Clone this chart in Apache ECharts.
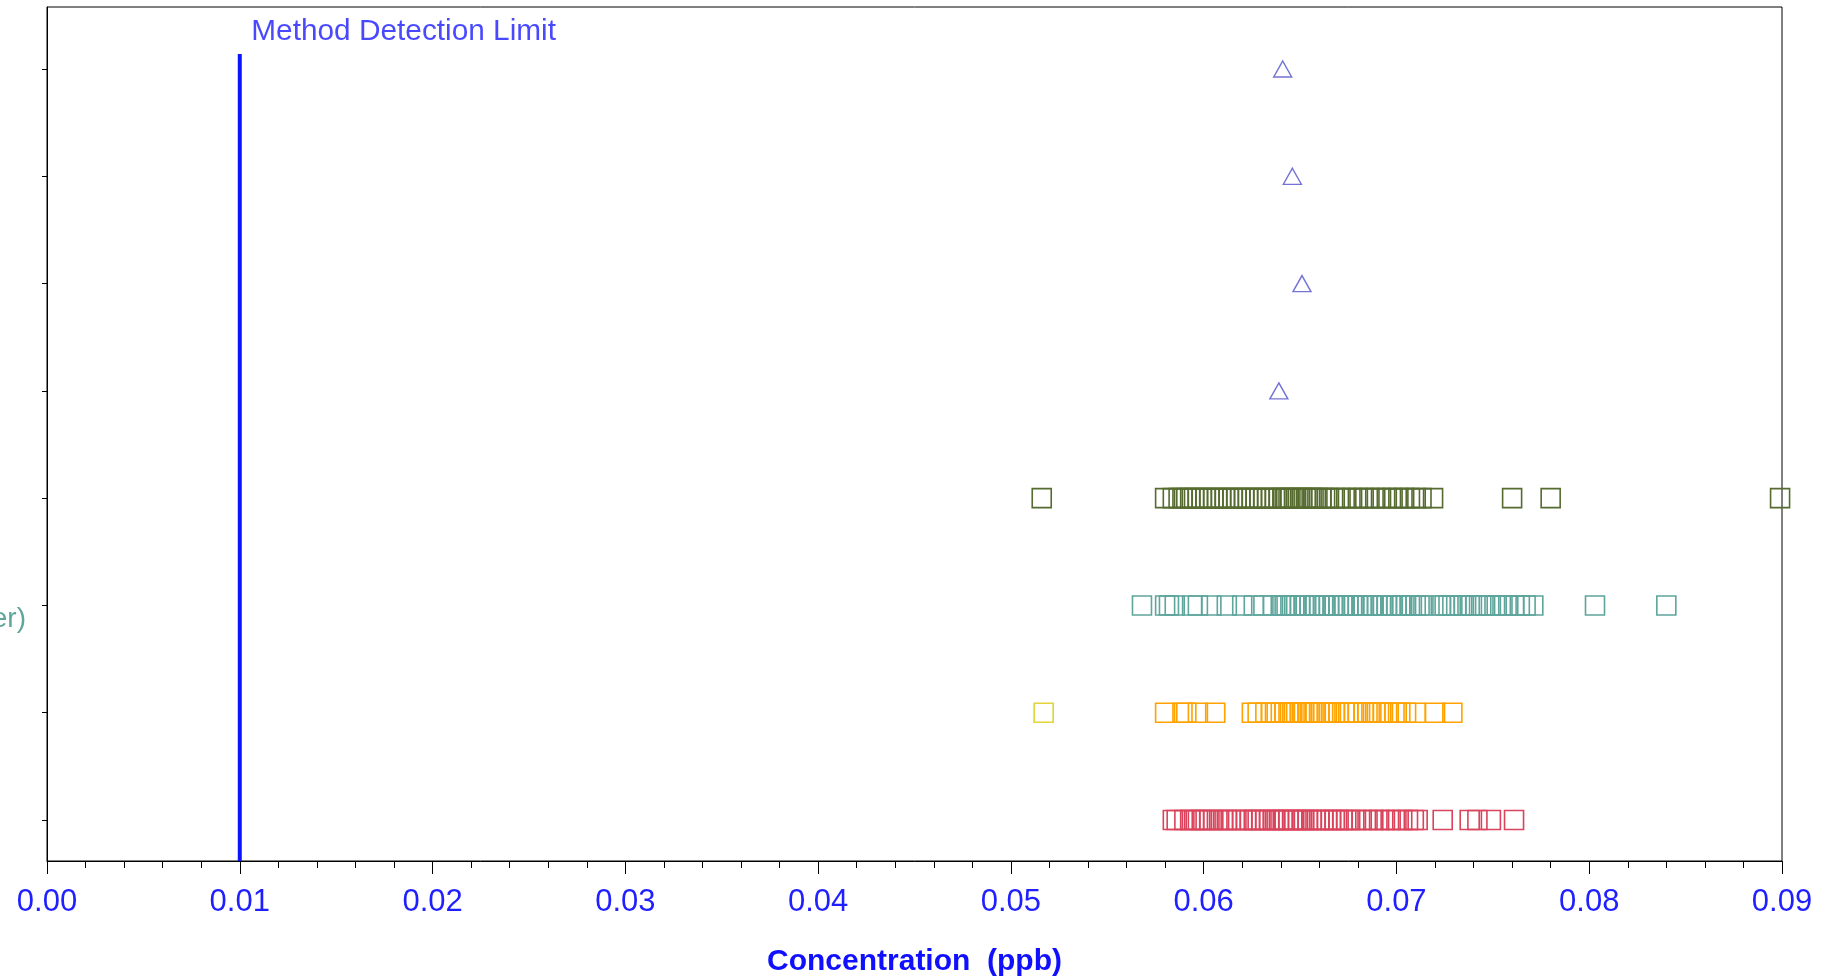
<!DOCTYPE html>
<html>
<head>
<meta charset="utf-8">
<script src="https://cdn.jsdelivr.net/npm/echarts@6/dist/echarts.min.js"></script>
<style>
html,body{margin:0;padding:0;background:#fff;}
#chart{width:1837px;height:977px;}
</style>
</head>
<body>
<div id="chart"></div>
<script>
// ---- data (concentration in ppb) ----
const rowTicks = [1, 2, 3, 4, 5, 6, 7, 8];
const rowLabels = {3: '(Finished Water)'};
const mdlValue = 0.01;
const mdlLabel = 'Method Detection Limit';
const axisTitle = 'Concentration  (ppb)';

const triangleRows = [8, 7, 6, 5];
const triangleX = [0.0641, 0.0646, 0.0651, 0.0639];

const oliveRow = 4;
const oliveX = [0.0516,
  0.0580, 0.0584, 0.0587, 0.0589, 0.0591, 0.0593, 0.0595, 0.0597, 0.0599, 0.0601, 0.0603, 0.0605,
  0.0607, 0.0609, 0.0611, 0.0613, 0.0615, 0.0617, 0.0619, 0.0621, 0.0623, 0.0625, 0.0627, 0.0629,
  0.0631, 0.0633, 0.0635, 0.0637, 0.0639, 0.0641, 0.0642, 0.0644, 0.0645, 0.0647, 0.0648, 0.0650,
  0.0651, 0.0653, 0.0654, 0.0656, 0.0657, 0.0659, 0.0661, 0.0663, 0.0665, 0.0668, 0.0671, 0.0674,
  0.0677, 0.0680, 0.0683, 0.0686, 0.0689, 0.0692, 0.0695, 0.0698, 0.0701, 0.0704, 0.0707, 0.0710,
  0.0713, 0.0719, 0.0760, 0.0780, 0.0899];

const tealRow = 3;
const tealX = [0.0568, 0.0580, 0.0582, 0.0585, 0.0594, 0.0597, 0.0604, 0.0612, 0.0620, 0.0626, 0.0631,
  0.0636, 0.0640, 0.0642, 0.0643, 0.0645, 0.0647, 0.0648, 0.0650, 0.0652, 0.0653, 0.0655, 0.0657,
  0.0658, 0.0660, 0.0662, 0.0663, 0.0665, 0.0667, 0.0668, 0.0670, 0.0672, 0.0673, 0.0675, 0.0677,
  0.0678, 0.0680, 0.0682, 0.0683, 0.0685, 0.0687, 0.0688, 0.0690, 0.0692, 0.0693, 0.0695, 0.0697,
  0.0698, 0.0700, 0.0702, 0.0703, 0.0705, 0.0707, 0.0708, 0.0710, 0.0712, 0.0714,
  0.0723, 0.0725, 0.0727, 0.0729, 0.0731, 0.0733, 0.0735,
  0.0738, 0.0741, 0.0744, 0.0746, 0.0749, 0.0752, 0.0755, 0.0758, 0.0761, 0.0764, 0.0767, 0.0771,
  0.0803, 0.0840];

const orangeRow = 2;
const orangeX = [0.0580, 0.0589, 0.0591, 0.0597, 0.0606,
  0.0625, 0.0628, 0.0632, 0.0635, 0.0637, 0.0640, 0.0642, 0.0644, 0.0646, 0.0648, 0.0650, 0.0651,
  0.0652, 0.0654, 0.0655, 0.0657, 0.0658, 0.0660, 0.0662, 0.0664, 0.0666, 0.0668, 0.0670, 0.0673,
  0.0675, 0.0678, 0.0680, 0.0683, 0.0685, 0.0687, 0.0689, 0.0691, 0.0693, 0.0696, 0.0699, 0.0702,
  0.0705, 0.0710, 0.0720, 0.0729];
const yellowX = [0.0517];

const redRow = 1;
const redX = [0.0584, 0.0586, 0.0590, 0.0593, 0.0595, 0.0597, 0.0599, 0.0601, 0.0603, 0.0605, 0.0608,
  0.0610, 0.0612, 0.0614, 0.0617, 0.0620, 0.0622, 0.0624, 0.0626, 0.0628, 0.0630, 0.0632, 0.0634,
  0.0636, 0.0637, 0.0639, 0.0641, 0.0642, 0.0644, 0.0646, 0.0647, 0.0649, 0.0651, 0.0652, 0.0654,
  0.0656, 0.0658, 0.0660, 0.0662, 0.0664, 0.0666, 0.0668, 0.0670, 0.0672, 0.0674, 0.0676, 0.0679,
  0.0682, 0.0685, 0.0688, 0.0691, 0.0694, 0.0697, 0.0700, 0.0703, 0.0706, 0.0709, 0.0711, 0.0724,
  0.0738, 0.0742, 0.0749, 0.0761];

// ---- chart ----
const FONT = '"Liberation Sans", Arial, sans-serif';
const yMin = 0.618, yMax = 8.578, mdlTop = 8.14;

function pts(xs, row) { return xs.map(x => [x, row]); }
function squares(name, xs, row, color) {
  return {
    name, type: 'scatter', symbol: 'rect', symbolSize: 19,
    data: pts(xs, row),
    itemStyle: { color: 'rgba(0,0,0,0)', borderColor: color, borderWidth: 1.6, opacity: 1 },
    emphasis: { disabled: true }, silent: true, z: 3
  };
}

const chart = echarts.init(document.getElementById('chart'), null, { renderer: 'canvas' });
chart.setOption({
  animation: false,
  backgroundColor: '#ffffff',
  grid: { left: 47, right: 55, top: 7, bottom: 116, containLabel: false, outerBoundsMode: 'none',
    show: true, borderColor: '#000', borderWidth: 1, backgroundColor: '#fff' },
  xAxis: {
    type: 'value', min: 0, max: 0.09, interval: 0.01,
    axisLine: { show: true, lineStyle: { color: '#000', width: 1 } },
    axisTick: { show: true, length: 13, lineStyle: { color: '#000' } },
    minorTick: { show: true, splitNumber: 5, length: 7, lineStyle: { color: '#000' } },
    splitLine: { show: false },
    axisLabel: { color: '#1f1fff', fontSize: 31, fontFamily: FONT, margin: 26, formatter: v => v.toFixed(2) },
    name: axisTitle, nameLocation: 'middle', nameGap: 86,
    nameTextStyle: { color: '#1010ff', fontSize: 30, fontWeight: 'bold', fontFamily: FONT }
  },
  yAxis: {
    type: 'value', min: yMin, max: yMax,
    axisLine: { show: true, lineStyle: { color: '#000', width: 1 } },
    axisTick: { show: true, length: 5, customValues: rowTicks, lineStyle: { color: '#000' } },
    splitLine: { show: false },
    axisLabel: {
      show: true, customValues: Object.keys(rowLabels).map(Number),
      formatter: v => rowLabels[Math.round(v)] || '',
      color: '#5ea59c', fontSize: 28, fontFamily: FONT, margin: 21, verticalAlign: 'top'
    }
  },
  series: [
    {
      name: 'MDL', type: 'line', data: [[mdlValue, yMin], [mdlValue, mdlTop]],
      symbol: 'none', lineStyle: { color: '#0a14ff', width: 4 }, silent: true, z: 2
    },
    {
      name: 'MDL label', type: 'scatter', data: [[mdlValue, mdlTop]], symbolSize: 1,
      itemStyle: { color: 'rgba(0,0,0,0)' }, silent: true,
      label: { show: true, position: [12, -37], formatter: mdlLabel, color: '#1a1aff', fontSize: 29.8, fontFamily: FONT }
    },
    {
      name: 'Triangles', type: 'scatter', symbol: 'triangle', symbolSize: [18, 16],
      data: triangleX.map((x, i) => [x, triangleRows[i]]),
      itemStyle: { color: 'rgba(0,0,0,0)', borderColor: '#5050cc', borderWidth: 1.4 }, silent: true
    },
    squares('Olive', oliveX, oliveRow, '#556b2f'),
    squares('Teal', tealX, tealRow, '#5ea59c'),
    squares('Orange', orangeX, orangeRow, '#ffa200'),
    squares('Yellow', yellowX, orangeRow, '#e2d43a'),
    squares('Red', redX, redRow, '#d9435b')
  ]
});
</script>
</body>
</html>
